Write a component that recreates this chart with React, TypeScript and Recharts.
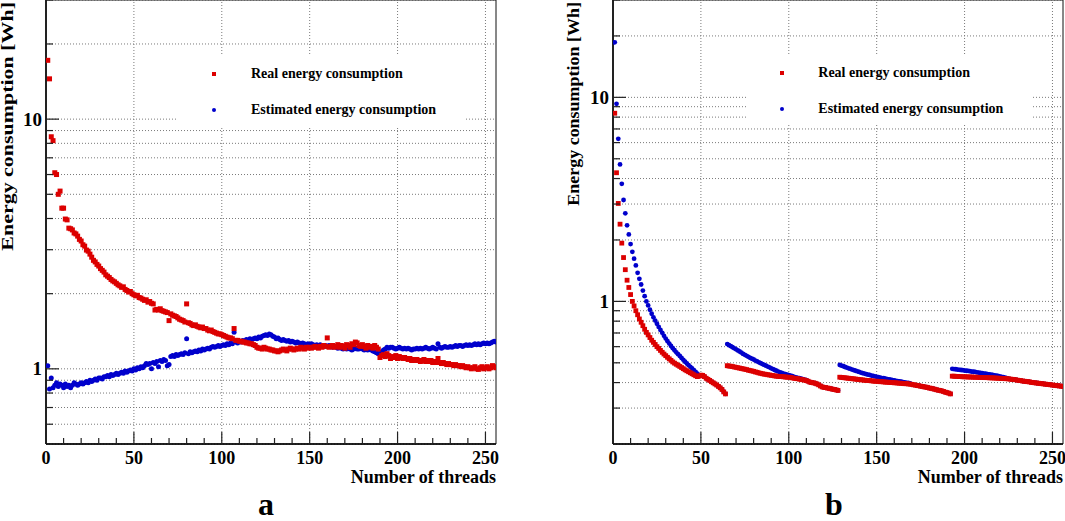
import React from "react";
import { ScatterChart, Scatter, XAxis, YAxis, CartesianGrid, Legend, ReferenceLine, ReferenceArea } from "recharts";

const RED = "#dc0000";
const BLUE = "#0000cc";
const GRID = "#7a7a7a";
const SERIF = '"Liberation Serif", "Times New Roman", Times, serif';

const SERIES_NAMES = ["Real energy consumption", "Estimated energy consumption"];
const X_TICKS = [0, 10, 20, 30, 40, 50, 60, 70, 80, 90, 100, 110, 120, 130, 140, 150, 160, 170, 180, 190, 200, 210, 220, 230, 240, 250];
const X_GRID = [50, 100, 150, 200, 250];
const Y_TICKS_A = [0.6, 0.7, 0.8, 0.9, 1, 2, 3, 4, 5, 6, 7, 8, 9, 10, 20, 30];
const Y_TICKS_B = [0.3, 0.4, 0.5, 0.6, 0.7, 0.8, 0.9, 1, 2, 3, 4, 5, 6, 7, 8, 9, 10, 20, 30];
const Y_LABELED = [1, 10];

// panel a: one value per thread count, 1..256
const REAL_A = [
  17.2, 14.5, 8.5, 8.2, 6.1, 6.0, 5.0, 5.15, 4.4, 4.4,
  3.98, 3.95, 3.66, 3.64, 3.6, 3.5, 3.47, 3.4, 3.3, 3.25,
  3.14, 3.1, 2.99, 2.96, 2.88, 2.8, 2.72, 2.68, 2.62, 2.58,
  2.52, 2.48, 2.44, 2.38, 2.35, 2.32, 2.28, 2.25, 2.23, 2.2,
  2.17, 2.15, 2.12, 2.13, 2.08, 2.06, 2.03, 2.04, 2.0, 1.98,
  1.96, 1.97, 1.93, 1.92, 1.9, 1.88, 1.89, 1.85, 1.86, 1.83,
  1.82, 1.72, 1.73, 1.72, 1.74, 1.71, 1.7, 1.69, 1.68, 1.56,
  1.66, 1.64, 1.63, 1.62, 1.6, 1.58, 1.57, 1.56, 1.54, 1.82,
  1.53, 1.52, 1.5, 1.49, 1.5, 1.48, 1.47, 1.46, 1.47, 1.45,
  1.45, 1.43, 1.42, 1.43, 1.41, 1.4, 1.39, 1.38, 1.38, 1.37,
  1.36, 1.35, 1.34, 1.33, 1.33, 1.32, 1.45, 1.3, 1.3, 1.29,
  1.29, 1.28, 1.28, 1.27, 1.27, 1.26, 1.26, 1.25, 1.24, 1.22,
  1.21, 1.21, 1.2, 1.22, 1.21, 1.2, 1.2, 1.19, 1.19, 1.18,
  1.18, 1.17, 1.18, 1.19, 1.2, 1.19, 1.18, 1.2, 1.21, 1.2,
  1.19, 1.2, 1.21, 1.2, 1.22, 1.21, 1.2, 1.22, 1.21, 1.22,
  1.21, 1.22, 1.23, 1.22, 1.21, 1.23, 1.22, 1.24, 1.23, 1.33,
  1.22, 1.23, 1.24, 1.22, 1.23, 1.25, 1.22, 1.24, 1.23, 1.21,
  1.25, 1.24, 1.22, 1.26, 1.25, 1.28, 1.27, 1.24, 1.23, 1.25,
  1.23, 1.21, 1.24, 1.22, 1.23, 1.21, 1.24, 1.22, 1.2, 1.11,
  1.13, 1.14, 1.12, 1.15, 1.13, 1.1, 1.12, 1.11, 1.13, 1.1,
  1.12, 1.11, 1.1, 1.11, 1.1, 1.09, 1.1, 1.08, 1.09, 1.08,
  1.09, 1.08, 1.07, 1.08, 1.09, 1.07, 1.08, 1.07, 1.08, 1.06,
  1.07, 1.06, 1.1, 1.06, 1.05, 1.06, 1.05, 1.04, 1.05, 1.04,
  1.04, 1.03, 1.04, 1.03, 1.03, 1.02, 1.03, 1.02, 1.01, 1.02,
  1.01, 1.0, 1.01, 1.02, 1.0, 0.995, 1.01, 1.02, 1.0, 1.01,
  1.02, 1.0, 1.01, 1.03, 1.02, 1.01,
];

const ESTIMATED_A = [
  1.03, 0.83, 0.92, 0.84, 0.86, 0.88, 0.85, 0.87, 0.86, 0.84,
  0.87, 0.85, 0.86, 0.84, 0.86, 0.88, 0.87, 0.86, 0.87, 0.88,
  0.87, 0.88, 0.89, 0.88, 0.9, 0.89, 0.9, 0.91, 0.9, 0.92,
  0.92, 0.91, 0.93, 0.93, 0.94, 0.93, 0.95, 0.94, 0.95, 0.96,
  0.95, 0.96, 0.97, 0.96, 0.98, 0.97, 0.98, 0.99, 0.98, 1.0,
  0.99, 1.01, 1.0, 1.02, 1.01, 1.03, 1.05, 1.04, 1.05, 1.0,
  1.06, 1.05, 1.07, 1.02, 1.08, 1.07, 1.09, 1.08, 1.03, 1.04,
  1.12, 1.13, 1.12, 1.14, 1.13, 1.14, 1.15, 1.14, 1.16, 1.32,
  1.15, 1.17, 1.16, 1.17, 1.18, 1.17, 1.19, 1.18, 1.2, 1.19,
  1.2, 1.21, 1.2, 1.22, 1.23, 1.22, 1.23, 1.24, 1.23, 1.24,
  1.25, 1.24, 1.26, 1.25, 1.27, 1.26, 1.4, 1.28, 1.27, 1.29,
  1.28, 1.3, 1.29, 1.31, 1.3, 1.32, 1.31, 1.32, 1.33, 1.32,
  1.34, 1.33, 1.35, 1.36, 1.37, 1.36, 1.38, 1.37, 1.35, 1.34,
  1.32, 1.33, 1.31, 1.3, 1.31, 1.3, 1.29, 1.3, 1.28, 1.29,
  1.28, 1.27, 1.28, 1.27, 1.26, 1.27, 1.26, 1.25, 1.26, 1.25,
  1.26, 1.25, 1.24, 1.25, 1.24, 1.25, 1.24, 1.23, 1.24, 1.23,
  1.24, 1.23, 1.22, 1.23, 1.22, 1.21, 1.22, 1.21, 1.2, 1.21,
  1.2, 1.21, 1.2, 1.19, 1.2, 1.21, 1.2, 1.2, 1.21, 1.2,
  1.19, 1.2, 1.19, 1.2, 1.19, 1.18, 1.17, 1.16, 1.15, 1.15,
  1.17, 1.19, 1.2, 1.22, 1.21, 1.22, 1.22, 1.21, 1.2, 1.21,
  1.22, 1.21, 1.2, 1.21, 1.2, 1.21, 1.2, 1.19, 1.2, 1.2,
  1.21, 1.2, 1.21, 1.2, 1.21, 1.22, 1.21, 1.2, 1.21, 1.22,
  1.21, 1.2, 1.26, 1.22, 1.21, 1.22, 1.23, 1.22, 1.22, 1.23,
  1.22, 1.23, 1.24, 1.23, 1.24, 1.24, 1.23, 1.24, 1.25, 1.24,
  1.25, 1.24, 1.25, 1.26, 1.25, 1.26, 1.25, 1.26, 1.27, 1.26,
  1.27, 1.26, 1.27, 1.28, 1.29, 1.28,
];

// panel b
const REAL_B = [
  8.36, 4.27, 3.02, 2.39, 1.93, 1.64, 1.43, 1.27, 1.17, 1.08,
  1.0, 0.95, 0.9, 0.86, 0.82, 0.79, 0.76, 0.73, 0.705, 0.685,
  0.665, 0.645, 0.63, 0.615, 0.6, 0.588, 0.575, 0.563, 0.552, 0.542,
  0.532, 0.523, 0.514, 0.505, 0.498, 0.492, 0.486, 0.48, 0.474, 0.468,
  0.462, 0.457, 0.452, 0.447, 0.442, 0.437, 0.432, 0.428, 0.43, 0.435,
  0.434, 0.428, 0.42, 0.415, 0.41, 0.404, 0.399, 0.394, 0.389, 0.383,
  0.377, 0.37, 0.36, 0.352, 0.484, 0.482, 0.481, 0.479, 0.477, 0.475,
  0.473, 0.471, 0.469, 0.467, 0.465, 0.463, 0.46, 0.458, 0.456, 0.454,
  0.451, 0.449, 0.446, 0.444, 0.442, 0.44, 0.439, 0.437, 0.436, 0.434,
  0.433, 0.431, 0.43, 0.429, 0.428, 0.428, 0.427, 0.426, 0.425, 0.425,
  0.424, 0.422, 0.42, 0.419, 0.418, 0.416, 0.414, 0.413, 0.411, 0.409,
  0.406, 0.402, 0.4, 0.399, 0.397, 0.394, 0.39, 0.385, 0.381, 0.379,
  0.378, 0.376, 0.375, 0.373, 0.371, 0.37, 0.368, 0.366, 0.425, 0.424,
  0.423, 0.422, 0.421, 0.42, 0.419, 0.418, 0.417, 0.416, 0.415, 0.414,
  0.413, 0.412, 0.411, 0.41, 0.41, 0.409, 0.408, 0.407, 0.406, 0.406,
  0.405, 0.404, 0.404, 0.403, 0.402, 0.402, 0.401, 0.4, 0.4, 0.399,
  0.399, 0.398, 0.397, 0.397, 0.396, 0.395, 0.395, 0.394, 0.393, 0.392,
  0.39, 0.389, 0.387, 0.386, 0.384, 0.383, 0.381, 0.38, 0.378, 0.376,
  0.375, 0.373, 0.371, 0.369, 0.367, 0.366, 0.364, 0.362, 0.359, 0.357,
  0.355, 0.352, 0.43, 0.43, 0.429, 0.429, 0.428, 0.428, 0.427, 0.427,
  0.427, 0.426, 0.426, 0.426, 0.425, 0.425, 0.425, 0.424, 0.424, 0.424,
  0.423, 0.423, 0.423, 0.422, 0.422, 0.422, 0.421, 0.421, 0.42, 0.42,
  0.419, 0.419, 0.418, 0.418, 0.417, 0.416, 0.415, 0.414, 0.413, 0.411,
  0.41, 0.409, 0.407, 0.406, 0.405, 0.404, 0.403, 0.401, 0.4, 0.399,
  0.398, 0.397, 0.396, 0.395, 0.394, 0.393, 0.392, 0.391, 0.39, 0.389,
  0.388, 0.387, 0.386, 0.385, 0.384, 0.383,
];

const ESTIMATED_B = [
  18.6, 9.3, 6.26, 4.69, 3.77, 3.14, 2.7, 2.36, 2.13, 1.91,
  1.75, 1.62, 1.5, 1.38, 1.29, 1.21, 1.13, 1.06, 1.0, 0.955,
  0.91, 0.87, 0.835, 0.805, 0.777, 0.75, 0.725, 0.701, 0.678, 0.657,
  0.638, 0.621, 0.605, 0.59, 0.576, 0.563, 0.551, 0.54, 0.528, 0.517,
  0.506, 0.496, 0.487, 0.478, 0.469, 0.46, 0.451, 0.442, 0.434, 0.434,
  0.433, 0.428, 0.42, 0.415, 0.41, 0.404, 0.399, 0.394, 0.389, 0.383,
  0.377, 0.37, 0.36, 0.352, 0.618, 0.61, 0.603, 0.596, 0.589, 0.582,
  0.575, 0.568, 0.561, 0.553, 0.547, 0.541, 0.535, 0.529, 0.524, 0.519,
  0.513, 0.508, 0.503, 0.498, 0.493, 0.489, 0.484, 0.479, 0.475, 0.47,
  0.466, 0.461, 0.457, 0.453, 0.449, 0.446, 0.443, 0.44, 0.437, 0.435,
  0.432, 0.43, 0.427, 0.424, 0.422, 0.42, 0.418, 0.416, 0.414, 0.411,
  0.406, 0.402, 0.4, 0.399, 0.397, 0.394, 0.39, 0.385, 0.381, 0.379,
  0.378, 0.376, 0.375, 0.373, 0.371, 0.37, 0.368, 0.366, 0.488, 0.484,
  0.481, 0.477, 0.474, 0.47, 0.467, 0.463, 0.46, 0.457, 0.454, 0.451,
  0.448, 0.445, 0.443, 0.44, 0.438, 0.436, 0.433, 0.431, 0.429, 0.427,
  0.425, 0.423, 0.421, 0.42, 0.418, 0.416, 0.415, 0.413, 0.411, 0.41,
  0.408, 0.407, 0.405, 0.404, 0.402, 0.401, 0.399, 0.398, 0.396, 0.392,
  0.39, 0.389, 0.387, 0.386, 0.384, 0.383, 0.381, 0.38, 0.378, 0.376,
  0.375, 0.373, 0.371, 0.369, 0.367, 0.366, 0.364, 0.362, 0.359, 0.357,
  0.355, 0.352, 0.467, 0.466, 0.465, 0.463, 0.462, 0.461, 0.46, 0.458,
  0.457, 0.456, 0.455, 0.453, 0.452, 0.451, 0.449, 0.448, 0.446, 0.445,
  0.443, 0.442, 0.44, 0.439, 0.437, 0.436, 0.434, 0.433, 0.431, 0.429,
  0.427, 0.425, 0.423, 0.42, 0.418, 0.416, 0.415, 0.414, 0.413, 0.411,
  0.41, 0.409, 0.407, 0.406, 0.405, 0.404, 0.403, 0.401, 0.4, 0.399,
  0.398, 0.397, 0.396, 0.395, 0.394, 0.393, 0.392, 0.391, 0.39, 0.389,
  0.388, 0.387, 0.386, 0.385, 0.384, 0.383,
];

const toPoints = (values: number[]) => values.map((energy, i) => ({ threads: i + 1, energy }));

function XTick(props: any) {
  const { x, y, payload } = props;
  const major = payload.value % 50 === 0;
  return (
    <g>
      <line x1={x} x2={x} y1={y} y2={y - (major ? 12 : 6)} stroke="#222" strokeWidth={1.2} />
      {major && (
        <text x={x} y={y + 19.5} textAnchor="middle" fontFamily={SERIF} fontWeight="bold" fontSize={18} fill="#000">
          {payload.value}
        </text>
      )}
    </g>
  );
}

function YTick(props: any) {
  const { x, y, payload } = props;
  const major = Y_LABELED.includes(payload.value);
  return (
    <g>
      <line x1={x} x2={x + (major ? 13 : 7)} y1={y} y2={y} stroke="#222" strokeWidth={1.2} />
      {major && (
        <text x={x - 4} y={y + 6.5} textAnchor="end" fontFamily={SERIF} fontWeight="bold" fontSize={19} fill="#000">
          {payload.value}
        </text>
      )}
    </g>
  );
}

const squareShape = (size: number) => (p: any) => (
  <rect x={p.cx - size / 2} y={p.cy - size / 2} width={size} height={size} fill={RED} />
);
const circleShape = (size: number) => (p: any) => <circle cx={p.cx} cy={p.cy} r={size / 2} fill={BLUE} />;

function makeLegend(markerX: number, textX: number) {
  return function LegendContent(props: any) {
    const items = [...(props.payload ?? [])].reverse();
    return (
      <div style={{ position: "relative", width: "100%", height: "100%" }}>
        {items.map((item: any, i: number) => {
          const cy = 17.5 + i * 36;
          return (
            <React.Fragment key={item.value}>
              <span
                style={{
                  position: "absolute",
                  left: markerX - 2,
                  top: cy - 2,
                  width: 4,
                  height: 4,
                  background: item.color,
                  borderRadius: item.type === "circle" ? "50%" : 0,
                }}
              />
              <span
                style={{
                  position: "absolute",
                  left: textX,
                  top: cy,
                  transform: "translateY(-50%)",
                  font: `bold 14px ${SERIF}`,
                  lineHeight: 1,
                  whiteSpace: "nowrap",
                  color: "#000",
                }}
              >
                {item.value}
              </span>
            </React.Fragment>
          );
        })}
      </div>
    );
  };
}

type PanelProps = {
  left: number;
  width: number;
  yAxisWidth: number;
  marginRight: number;
  domain: [number, number];
  yTicks: number[];
  real: number[];
  estimated: number[];
  markerSize: number;
  titleX: number;
  titleStretch: number;
  legendBox: { left: number; top: number; width: number; height: number };
  legendMarkerX: number;
  legendTextX: number;
};

function Panel(p: PanelProps) {
  const plotRight = p.width - p.marginRight;
  return (
    <div style={{ position: "absolute", left: p.left, top: 0 }}>
      <ScatterChart width={p.width} height={521} margin={{ top: 0, right: p.marginRight, bottom: 47, left: 0 }}>
        <CartesianGrid vertical={false} stroke={GRID} strokeDasharray="1 2" />
        {X_GRID.map((x) => (
          <ReferenceLine key={x} x={x} stroke={GRID} strokeDasharray="1 2" />
        ))}
        <XAxis
          dataKey="threads"
          type="number"
          domain={[0, 256]}
          allowDataOverflow
          ticks={X_TICKS}
          interval={0}
          tickSize={0}
          tickMargin={0}
          tickLine={false}
          axisLine={{ stroke: "#000", strokeWidth: 1.5 }}
          tick={<XTick />}
          height={30}
          label={() => (
            <text x={plotRight} y={483} textAnchor="end" fontFamily={SERIF} fontWeight="bold" fontSize={18} fill="#000">
              Number of threads
            </text>
          )}
        />
        <YAxis
          dataKey="energy"
          type="number"
          scale="log"
          domain={p.domain}
          allowDataOverflow
          ticks={p.yTicks}
          interval={0}
          tickSize={0}
          tickMargin={0}
          tickLine={false}
          axisLine={{ stroke: "#000", strokeWidth: 1.5 }}
          tick={<YTick />}
          width={p.yAxisWidth}
          label={() => (
            <text
              transform={`translate(${p.titleX},2) rotate(-90) scale(${p.titleStretch},1)`}
              textAnchor="end"
              fontFamily={SERIF}
              fontWeight="bold"
              fontSize={16.5}
              fill="#000"
            >
              Energy consumption [Wh]
            </text>
          )}
        />
        <ReferenceArea x1={0} x2={256} y1={p.domain[0]} y2={p.domain[1]} fill="none" stroke="#111" strokeWidth={1} />
        <Legend
          layout="horizontal"
          verticalAlign="middle"
          align="center"
          content={makeLegend(p.legendMarkerX, p.legendTextX)}
          wrapperStyle={{ ...p.legendBox, background: "#fff" }}
        />
        <Scatter
          name={SERIES_NAMES[1]}
          data={toPoints(p.estimated)}
          fill={BLUE}
          legendType="circle"
          shape={circleShape(p.markerSize)}
          isAnimationActive={false}
        />
        <Scatter
          name={SERIES_NAMES[0]}
          data={toPoints(p.real)}
          fill={RED}
          legendType="square"
          shape={squareShape(p.markerSize)}
          isAnimationActive={false}
        />
      </ScatterChart>
    </div>
  );
}

export default function App() {
  return (
    <div style={{ position: "absolute", left: 0, top: 0, width: 1065, height: 521, background: "#fff", overflow: "hidden" }}>
      <Panel
        left={0}
        width={510}
        yAxisWidth={46}
        marginRight={14}
        domain={[0.5, 30]}
        yTicks={Y_TICKS_A}
        real={REAL_A}
        estimated={ESTIMATED_A}
        markerSize={5}
        titleX={13}
        titleStretch={1.33}
        legendBox={{ left: 178, top: 56, width: 288, height: 71 }}
        legendMarkerX={36.3}
        legendTextX={73}
      />
      <Panel
        left={560}
        width={505}
        yAxisWidth={53}
        marginRight={2}
        domain={[0.2, 30]}
        yTicks={Y_TICKS_B}
        real={REAL_B}
        estimated={ESTIMATED_B}
        markerSize={4.8}
        titleX={19}
        titleStretch={1.09}
        legendBox={{ left: 187, top: 55, width: 286, height: 70 }}
        legendMarkerX={35}
        legendTextX={71.3}
      />
      <svg width={1065} height={521} style={{ position: "absolute", left: 0, top: 0, pointerEvents: "none" }}>
        <text x={266} y={515} textAnchor="middle" fontFamily={SERIF} fontWeight="bold" fontSize={32} fill="#000">
          a
        </text>
        <text x={834} y={515} textAnchor="middle" fontFamily={SERIF} fontWeight="bold" fontSize={32} fill="#000">
          b
        </text>
      </svg>
    </div>
  );
}
